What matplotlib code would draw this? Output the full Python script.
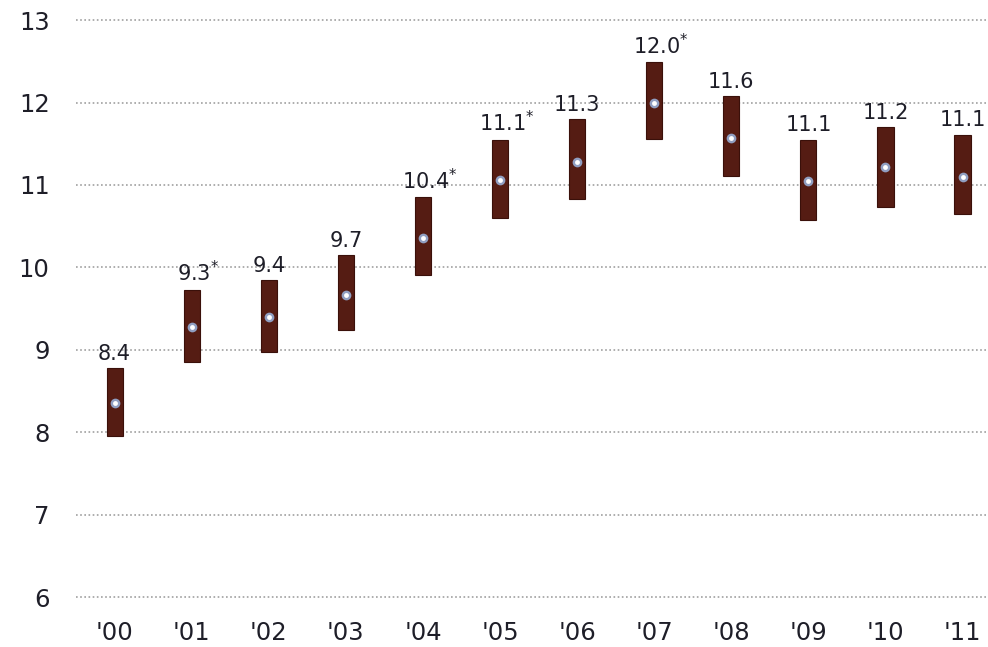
import matplotlib.pyplot as plt
import numpy as np

years = ["'00", "'01", "'02", "'03", "'04", "'05", "'06", "'07", "'08", "'09", "'10", "'11"]
estimate = [8.35, 9.28, 9.40, 9.66, 10.36, 11.06, 11.28, 12.00, 11.57, 11.05, 11.22, 11.10]
low = [7.95, 8.85, 8.97, 9.24, 9.91, 10.60, 10.83, 11.56, 11.11, 10.58, 10.73, 10.65]
high = [8.78, 9.73, 9.85, 10.15, 10.85, 11.55, 11.80, 12.49, 12.08, 11.55, 11.70, 11.61]
labels = ["8.4", "9.3*", "9.4", "9.7", "10.4*", "11.1*", "11.3", "12.0*", "11.6", "11.1", "11.2", "11.1"]

fig = plt.figure(figsize=(9.88, 6.47), dpi=100)
ax = fig.add_axes([0.077, 0.077, 0.923, 0.892])

x = np.arange(len(years))
low = np.array(low)
high = np.array(high)

ax.bar(x, high - low, bottom=low, width=0.21, color='#551c13',
       edgecolor='#3a100a', linewidth=0.8, zorder=3)
# soft halo + white point for the estimate
ax.plot(x, estimate, linestyle='none', marker='o', markersize=7,
        markerfacecolor='#9fc0ee', markeredgecolor='none', alpha=0.8, zorder=4)
ax.plot(x, estimate, linestyle='none', marker='o', markersize=3.5,
        markerfacecolor='white', markeredgecolor='none', zorder=5)

for xi, top, lab in zip(x, high, labels):
    if lab.endswith('*'):
        txt = lab[:-1] + r'$^{*}$'
        dx = 5
    else:
        txt = lab
        dx = 0
    ax.annotate(txt, (xi, top), xytext=(dx, 3), textcoords='offset points',
                ha='center', va='bottom', fontsize=15, color='#1e1e28',
                annotation_clip=False)

ax.set_xlim(-0.5, 11.33)
ax.set_ylim(6, 13)
ax.set_yticks(range(6, 14))
ax.set_xticks(x)
ax.set_xticklabels(years)
ax.tick_params(axis='both', length=0, labelsize=17.5, colors='#1e1e28')
ax.tick_params(axis='y', pad=19)
ax.tick_params(axis='x', pad=17)

ax.grid(axis='y', color='#a0a0a0', linestyle=(0, (1, 1.5)), linewidth=1.2, zorder=0)
ax.grid(axis='x', visible=False)
for s in ax.spines.values():
    s.set_visible(False)
for gl in ax.get_ygridlines():
    gl.set_clip_on(False)

fig.savefig('out.png', dpi=100)
